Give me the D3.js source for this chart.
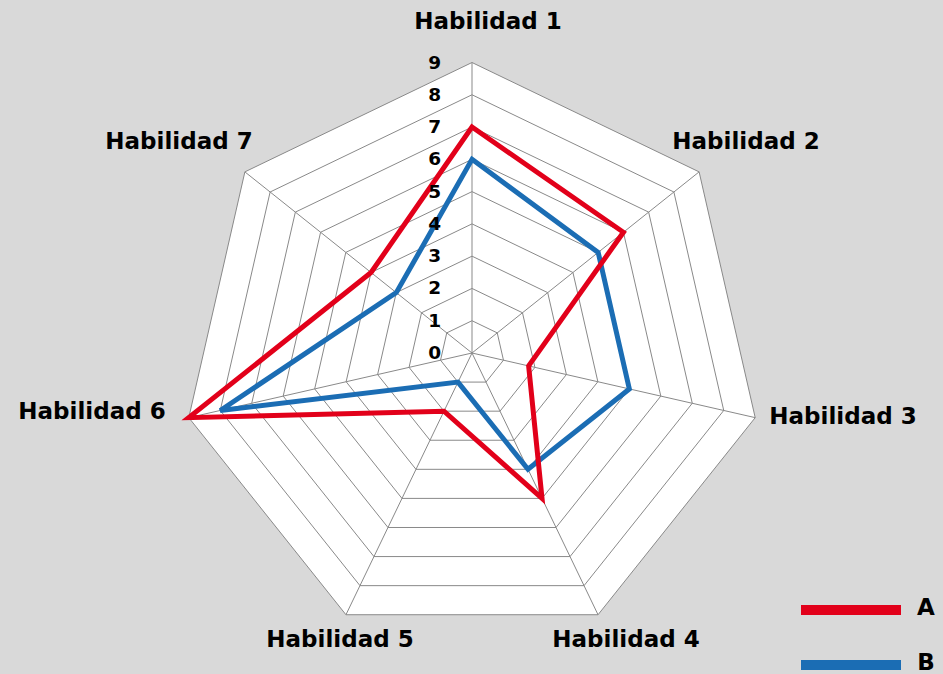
<!DOCTYPE html>
<html><head><meta charset="utf-8">
<script src="https://cdn.jsdelivr.net/npm/d3@7"></script>
<style>body{margin:0;background:#d9d9d9;}svg{display:block;}</style>
</head><body>
<script>
const categories = ["Habilidad 1","Habilidad 2","Habilidad 3","Habilidad 4","Habilidad 5","Habilidad 6","Habilidad 7"];
const seriesA = [7, 6, 1.8, 5, 2, 9, 4];
const seriesB = [6, 5, 5, 4, 1, 8, 3];
const seriesNames = ["A","B"];
const tickValues = [0,1,2,3,4,5,6,7,8,9];

const W = 943, H = 674, cx = 472, cy = 353, R = 290.5;
const font = "'DejaVu Sans', sans-serif";
const svg = d3.select("body").append("svg").attr("width", W).attr("height", H);
svg.append("rect").attr("width", W).attr("height", H).attr("fill", "#d9d9d9");

const r = d3.scaleLinear().domain([0, 9]).range([0, R]);
const n = categories.length;
const ang = i => -Math.PI/2 + i * 2*Math.PI/n;
const pt = (i, v) => [cx + r(v)*Math.cos(ang(i)), cy + r(v)*Math.sin(ang(i))];
const line = d3.line().curve(d3.curveLinearClosed);

svg.append("path").attr("d", line(categories.map((c,i)=>pt(i,9)))).attr("fill","#fff");
tickValues.filter(t=>t>0).forEach(t=>{
  svg.append("path").attr("d", line(categories.map((c,i)=>pt(i,t))))
    .attr("fill","none").attr("stroke","#898989").attr("stroke-width",1);
});
categories.forEach((c,i)=>{
  const p = pt(i,9);
  svg.append("line").attr("x1",cx).attr("y1",cy).attr("x2",p[0]).attr("y2",p[1])
    .attr("stroke","#898989").attr("stroke-width",1);
});
const colors = ["#e2001a","#1b6db4"];
[[seriesB, colors[1]], [seriesA, colors[0]]].forEach(([s,col])=>{
  svg.append("path").attr("d", line(s.map((v,i)=>pt(i,v))))
    .attr("fill","none").attr("stroke",col).attr("stroke-width",5).attr("stroke-linejoin","miter");
});
tickValues.forEach(t=>{
  svg.append("text").attr("x", cx-31).attr("y", cy - r(t) + 1)
    .attr("text-anchor","end").attr("dominant-baseline","middle")
    .attr("font-family",font).attr("font-weight","bold").attr("font-size",18.5)
    .attr("fill","#000").text(t);
});
const labelPos = [[488,22],[746,142],[843,417],[626,640],[340,640],[92,412],[179,142]];
categories.forEach((c,i)=>{
  svg.append("text").attr("x", labelPos[i][0]).attr("y", labelPos[i][1])
    .attr("text-anchor","middle").attr("dominant-baseline","middle")
    .attr("font-family",font).attr("font-weight","bold").attr("font-size",23)
    .attr("fill","#000").text(c);
});
seriesNames.forEach((nm,k)=>{
  const y = k===0 ? 610 : 665;
  svg.append("line").attr("x1",801).attr("x2",901).attr("y1",y).attr("y2",y)
    .attr("stroke",colors[k]).attr("stroke-width",10);
  svg.append("text").attr("x",926).attr("y",y-2).attr("text-anchor","middle")
    .attr("dominant-baseline","middle").attr("font-family",font).attr("font-weight","bold")
    .attr("font-size",23).attr("fill","#000").text(nm);
});
</script>
</body></html>
